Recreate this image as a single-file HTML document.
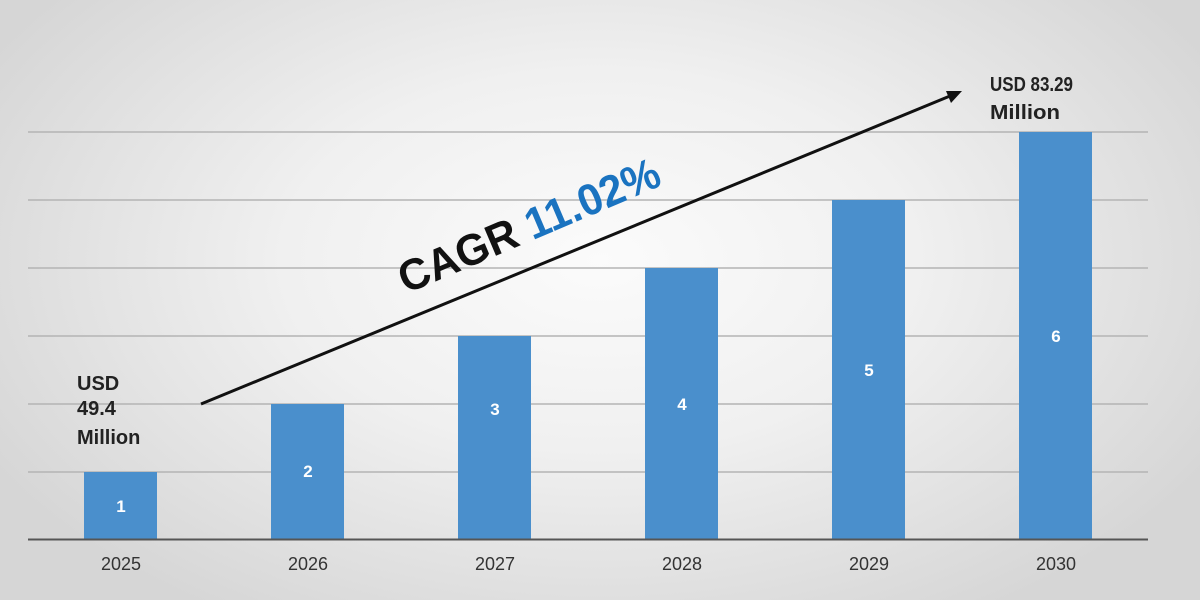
<!DOCTYPE html>
<html><head><meta charset="utf-8"><style>
html,body{margin:0;padding:0;width:1200px;height:600px;overflow:hidden}
body{background:radial-gradient(ellipse 700px 420px at 600px 260px,#fbfbfb 0%,#f0f0f0 45%,#d6d6d6 100%);font-family:"Liberation Sans",sans-serif}
</style></head><body>
<svg width="1200" height="600" xmlns="http://www.w3.org/2000/svg" style="position:absolute;left:0;top:0">
<g stroke="#b4b4b4" stroke-width="1.5">
<line x1="28" y1="132" x2="1148" y2="132"/>
<line x1="28" y1="200" x2="1148" y2="200"/>
<line x1="28" y1="268" x2="1148" y2="268"/>
<line x1="28" y1="336" x2="1148" y2="336"/>
<line x1="28" y1="404" x2="1148" y2="404"/>
<line x1="28" y1="472" x2="1148" y2="472"/>
</g>
<g fill="#4a8fcc">
<rect x="84" y="472" width="73" height="67"/>
<rect x="271" y="404" width="73" height="135"/>
<rect x="458" y="336" width="73" height="203"/>
<rect x="645" y="268" width="73" height="271"/>
<rect x="832" y="200" width="73" height="339"/>
<rect x="1019" y="132" width="73" height="407"/>
</g>
<line x1="28" y1="539.5" x2="1148" y2="539.5" stroke="#555" stroke-width="2"/>
<g fill="#fff" font-size="17" font-weight="bold" text-anchor="middle">
<text x="121" y="512">1</text><text x="308" y="477">2</text><text x="495" y="415">3</text>
<text x="682" y="410">4</text><text x="869" y="376">5</text><text x="1056" y="342">6</text>
</g>
<g fill="#333" font-size="18" text-anchor="middle">
<text x="121" y="570">2025</text><text x="308" y="570">2026</text><text x="495" y="570">2027</text>
<text x="682" y="570">2028</text><text x="869" y="570">2029</text><text x="1056" y="570">2030</text>
</g>
<line x1="201" y1="404" x2="950" y2="96" stroke="#111" stroke-width="3"/>
<polygon points="962,91 946,91 951,103" fill="#111"/>
<g font-size="20" font-weight="bold" fill="#222">
<text x="77" y="390">USD</text><text x="77" y="415">49.4</text><text x="77" y="444">Million</text>
<text x="990" y="91" textLength="83" lengthAdjust="spacingAndGlyphs">USD 83.29</text><text x="990" y="119" textLength="70" lengthAdjust="spacingAndGlyphs">Million</text>
</g>
<text transform="translate(406,294) rotate(-23)" font-size="44" font-weight="bold" fill="#111" textLength="280" lengthAdjust="spacingAndGlyphs">CAGR <tspan fill="#1a73c0">11.02%</tspan></text>
</svg>
</body></html>
